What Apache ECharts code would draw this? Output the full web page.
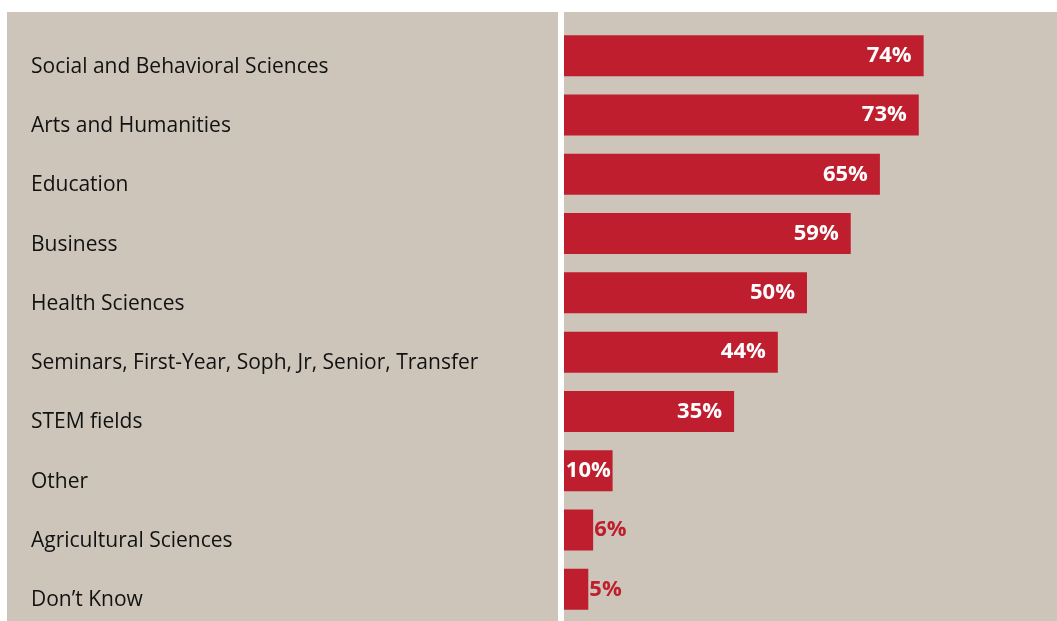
<!DOCTYPE html>
<html>
<head>
<meta charset="utf-8">
<script src="https://cdn.jsdelivr.net/npm/echarts@6/dist/echarts.min.js"></script>
<style>
  html, body { margin: 0; padding: 0; background: #ffffff; }
  #chart { width: 1057px; height: 621px; }
</style>
</head>
<body>
<div id="chart"></div>
<script>
// Fields of study, top to bottom
const categories = [
  'Social and Behavioral Sciences',
  'Arts and Humanities',
  'Education',
  'Business',
  'Health Sciences',
  'Seminars, First-Year, Soph, Jr, Senior, Transfer',
  'STEM fields',
  'Other',
  'Agricultural Sciences',
  'Don\u2019t Know'
];
// Share of respondents, percent
const percentages = [74, 73, 65, 59, 50, 44, 35, 10, 6, 5];

const RED = '#be1e2d';
const PANEL = '#cdc5ba';

// Label placement depends on how much room the bar leaves
function labelFor(v) {
  if (v >= 20) return { position: 'insideRight', distance: 12, color: '#ffffff' };
  if (v >= 10) return { position: 'inside', color: '#ffffff' };
  return { position: 'right', distance: 1, color: RED };
}

const barData = percentages.map(v => ({ value: v, label: labelFor(v) }));

const chart = echarts.init(document.getElementById('chart'), null, { renderer: 'canvas' });

chart.setOption({
  backgroundColor: '#ffffff',
  animation: false,
  graphic: [
    // left label panel
    { type: 'rect', z: -10, shape: { x: 7, y: 12, width: 551, height: 609 }, style: { fill: PANEL } },
    // right bar panel
    { type: 'rect', z: -10, shape: { x: 564, y: 12, width: 493, height: 609 }, style: { fill: PANEL } }
  ],
  grid: { left: 564, right: 7, top: 26, bottom: 2, containLabel: false },
  xAxis: {
    type: 'value', min: 0, max: 100,
    show: false
  },
  yAxis: {
    type: 'category',
    data: categories,
    inverse: true,
    axisLine: { show: false },
    axisTick: { show: false },
    splitLine: { show: false },
    axisLabel: {
      align: 'left',
      verticalAlign: 'top',
      lineHeight: 22,
      margin: 533,
      color: '#111111',
      fontFamily: 'Open Sans',
      fontSize: 21
    }
  },
  series: [{
    type: 'bar',
    data: barData,
    barWidth: 41,
    itemStyle: { color: RED },
    label: {
      show: true,
      formatter: '{c}%',
      fontFamily: 'Open Sans',
      fontWeight: 'bold',
      fontSize: 22
    }
  }]
});
</script>
</body>
</html>
